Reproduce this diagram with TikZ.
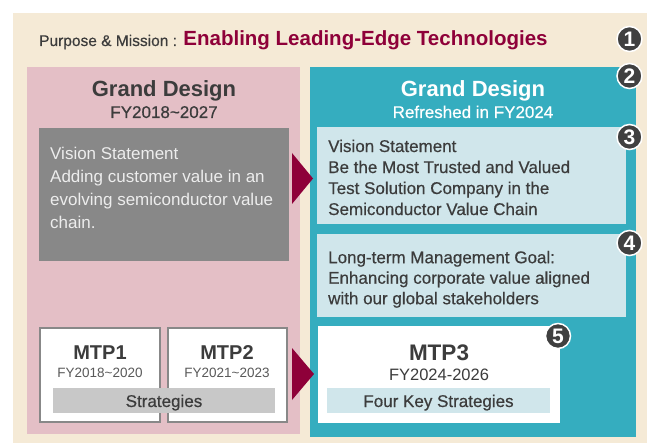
\documentclass[tikz,border=0pt]{standalone}
\usepackage{fontspec}
\setmainfont{Liberation Sans}
\newfontfamily\mediumfont[FakeBold=0.5]{Liberation Sans}
\usetikzlibrary{positioning}

\definecolor{beige}{HTML}{F5EAD6}
\definecolor{oldpink}{HTML}{E4BFC6}
\definecolor{newteal}{HTML}{35ADBF}
\definecolor{paleblue}{HTML}{D0E6EB}
\definecolor{crimson}{HTML}{8E0039}
\definecolor{darktext}{HTML}{3C3C3C}
\definecolor{boxgray}{HTML}{888888}
\definecolor{bargray}{HTML}{C8C8C8}
\definecolor{badgegray}{HTML}{404040}

% font size in px (1pt = 1px here)
\newcommand{\pxfont}[2]{\fontsize{#1}{#2}\selectfont}

\begin{document}
\begin{tikzpicture}[x=1pt,y=-1pt,
  panel/.style={anchor=north west, inner sep=0, outer sep=0},
  body/.style={anchor=north west, inner sep=0, align=left, text=darktext},
  mtpbox/.style={panel, fill=white, draw=boxgray, line width=2pt},
  badge/.style={circle, fill=badgegray, draw=white, line width=1.5pt, text=white,
    inner sep=0, minimum size=25pt, font=\bfseries\pxfont{21}{21}}]
\useasboundingbox (0,0) rectangle (647,443);

% background and the two panels
\node[panel, fill=beige, minimum width=634, minimum height=430] (bg) at (13,13) {};
\node[panel, fill=oldpink, minimum width=273, minimum height=367] (oldgd) at (27,67) {};
\node[panel, fill=newteal, minimum width=326, minimum height=370] (newgd) at (310,67) {};

% purpose line
\node[anchor=base west, inner sep=0, text=darktext, font=\mediumfont\pxfont{15.5}{18}] (purpose) at (39,46) {Purpose \& Mission :};
\node[anchor=base west, inner sep=0, text=crimson, font=\bfseries\pxfont{20.5}{24}] (mission) at ([xshift=6pt]purpose.base east) {Enabling Leading-Edge Technologies};

% headings
\node[anchor=base, text=darktext, font=\bfseries\pxfont{22}{24}] (oldhead) at (164,97) {Grand Design};
\node[anchor=base, text=darktext, font=\mediumfont\pxfont{17}{20}] (oldyears) at (164,118) {FY2018\textasciitilde2027};
\node[anchor=base, text=white, font=\bfseries\pxfont{22}{24}] (newhead) at (473,97) {Grand Design};
\node[anchor=base, text=white, font=\mediumfont\pxfont{17}{20}] (newyears) at (473,118) {Refreshed in FY2024};

% old vision
\node[panel, fill=boxgray, minimum width=250, minimum height=133] (oldvision) at (39,128) {};
\node[body, text=white!93!black, font=\pxfont{17}{23}] (oldvisiontext) at (50,146.5)
  {Vision Statement\\Adding customer value in an\\evolving semiconductor value\\chain.};

% new vision and goal
\node[panel, fill=paleblue, minimum width=309, minimum height=97] (newvision) at (317,127) {};
\node[body, font=\mediumfont\pxfont{17}{21}] (newvisiontext) at (328,139.5)
  {Vision Statement\\Be the Most Trusted and Valued\\Test Solution Company in the\\Semiconductor Value Chain};
\node[panel, fill=paleblue, minimum width=309, minimum height=83] (goal) at (317,234) {};
\node[body, font=\mediumfont\pxfont{17}{20.5}] (goaltext) at (328,250.7)
  {Long-term Management Goal:\\Enhancing corporate value aligned\\with our global stakeholders};

% mid-term plans
\node[mtpbox, minimum width=120, minimum height=94] (mtp1) at (40,328) {};
\node[mtpbox, minimum width=119, minimum height=94] (mtp2) at (168,328) {};
\node[panel, fill=bargray, minimum width=222, minimum height=25] (oldstrat) at (53,388) {};
\node[anchor=base, text=darktext, font=\bfseries\pxfont{20}{22}] at (100,359) {MTP1};
\node[anchor=base, text=darktext!85, font=\pxfont{13.5}{16}] at (100,377) {FY2018\textasciitilde2020};
\node[anchor=base, text=darktext, font=\bfseries\pxfont{20}{22}] at (227,359) {MTP2};
\node[anchor=base, text=darktext!85, font=\pxfont{13.5}{16}] at (227,377) {FY2021\textasciitilde2023};
\node[anchor=base, text=darktext, font=\mediumfont\pxfont{17}{20}] at (oldstrat.center |- 0,407) {Strategies};

\node[panel, fill=white, minimum width=242, minimum height=97] (mtp3) at (318,326) {};
\node[panel, fill=paleblue, minimum width=223, minimum height=25] (newstrat) at (327,388) {};
\node[anchor=base, text=darktext, font=\bfseries\pxfont{22.5}{24}] at (439,360) {MTP3};
\node[anchor=base, text=darktext, font=\pxfont{16.5}{18}] at (439,380) {FY2024-2026};
\node[anchor=base, text=darktext, font=\mediumfont\pxfont{17}{20}] at (newstrat.center |- 0,407) {Four Key Strategies};

% chevrons
\fill[crimson] (292,153) -- (313,178.5) -- (292,204) -- cycle;
\fill[crimson] (292,348) -- (314,374) -- (292,400) -- cycle;

% numbered badges
\node[badge] (b1) at (629.5,39) {1};
\node[badge] (b2) at (629.5,76) {2};
\node[badge] (b3) at (629.5,137) {3};
\node[badge] (b4) at (629.5,243) {4};
\node[badge] (b5) at (558,336) {5};
\end{tikzpicture}
\end{document}
